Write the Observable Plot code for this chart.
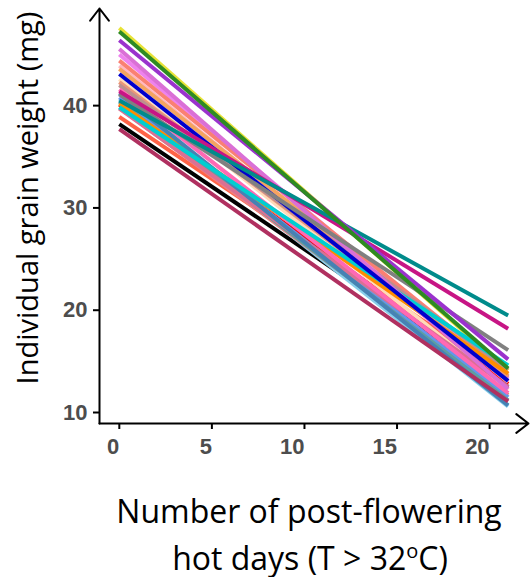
<!DOCTYPE html>
<html><head><meta charset="utf-8">
<script src="https://cdn.jsdelivr.net/npm/d3@7"></script>
<script src="https://cdn.jsdelivr.net/npm/@observablehq/plot@0.6"></script>
<style>body{margin:0;background:#fff}</style>
</head><body><div id="chart"></div>
<script>
// Fitted lines: value at the first and last day
const days = [0, 21];
const lineColors = [
  "#FF0000", "#FF6347", "#000000",
  "#E8E337", "#FFDAB9", "#FFB6C1", "#F4A460", "#87CEEB", "#F08080",
  "#EE82EE", "#FA8072", "#E9967A", "#BC8F8F", "#6495ED", "#5F9EA0",
  "#FF8C00", "#DB7093", "#FF69B4", "#4682B4", "#00CED1",
  "#DA70D6", "#0000CD", "#808080", "#C71585", "#008B8B",
  "#9A32CD", "#2E8B22", "#B03060"
];
const startWeights = [
  39.9, 38.7, 38.0,
  47.4, 42.4, 43.7, 43.4, 40.4, 39.6,
  44.8, 44.2, 42.1, 41.8, 40.6, 40.2,
  40.0, 39.5, 41.4, 41.0, 39.65,
  45.35, 42.9, 40.9, 41.2, 40.3,
  46.2, 47.05, 37.5
];
const endWeights = [
  12.6, 13.2, 12.3,
  13.9, 12.0, 12.8, 13.4, 10.4, 11.5,
  13.1, 13.6, 13.3, 14.0, 11.3, 11.0,
  13.6, 12.3, 11.7, 10.5, 14.4,
  12.1, 12.9, 15.9, 18.0, 19.3,
  15.0, 14.1, 10.9
];
const xTicks = [0, 5, 10, 15, 20];
const yTicks = [10, 20, 30, 40];
const yTitle = "Individual grain weight (mg)";
const xTitleLines = ["Number of post-flowering", "hot days (T > 32oC)"];
const xDomain = [-1.07, 22.1];
const yDomain = [8.73, 49.3];

const lineData = lineColors.flatMap((c, i) => [
  {id: i, color: c, day: days[0], weight: startWeights[i]},
  {id: i, color: c, day: days[1], weight: endWeights[i]}
]);
const axisArrows = [
  {x1: xDomain[0], y1: yDomain[0], x2: xDomain[0], y2: yDomain[1]},
  {x1: xDomain[0], y1: yDomain[0], x2: xDomain[1], y2: yDomain[0]}
];

const tickFont = {fontFamily: "Liberation Sans, Arial, sans-serif", fontWeight: "bold", fontSize: 22, fill: "#4d4d4d", color: "black", strokeWidth: 2, tickSize: 6, label: null};

const chart = Plot.plot({
  width: 530, height: 577,
  marginLeft: 99, marginRight: 2, marginTop: 8, marginBottom: 154,
  style: {background: "white", fontFamily: "Liberation Sans, Arial, sans-serif"},
  x: {domain: xDomain},
  y: {domain: yDomain},
  color: {type: "identity"},
  marks: [
    Plot.line(lineData, {x: "day", y: "weight", z: "id", stroke: "color", strokeWidth: 4, strokeLinecap: "butt"}),
    Plot.axisY({...tickFont, ticks: yTicks, tickPadding: 6, dy: 2}),
    Plot.axisX({...tickFont, ticks: xTicks, tickPadding: 9, textAnchor: "end", dx: 0}),
    Plot.arrow(axisArrows, {x1: "x1", y1: "y1", x2: "x2", y2: "y2", stroke: "black", strokeWidth: 2, headAngle: 75, headLength: 11.5}),
    Plot.text([yTitle], {frameAnchor: "left", textAnchor: "middle", rotate: -90, lineAnchor: "bottom", dx: -62, dy: -18, fontSize: 29, fontFamily: "Open Sans", fill: "black"}),
    Plot.text([xTitleLines[0]], {frameAnchor: "bottom", textAnchor: "middle", lineAnchor: "bottom", dx: -5, dy: 99, fontSize: 32, fontFamily: "Open Sans", fill: "black"}),
    Plot.text([xTitleLines[1]], {frameAnchor: "bottom", textAnchor: "middle", lineAnchor: "bottom", dx: -4, dy: 146, fontSize: 32, fontFamily: "Open Sans", fill: "black"})
  ]
});

// superscript "o" in the degree unit
const ns = "http://www.w3.org/2000/svg";
chart.querySelectorAll("text").forEach(t => {
  if (t.textContent === xTitleLines[1]) {
    const s = t.textContent;
    const k = s.lastIndexOf("oC");
    t.textContent = s.slice(0, k);
    const sup = document.createElementNS(ns, "tspan");
    sup.textContent = s.slice(k, k + 1);
    sup.setAttribute("font-size", "20");
    sup.setAttribute("dy", "-12");
    const rest = document.createElementNS(ns, "tspan");
    rest.textContent = s.slice(k + 1);
    rest.setAttribute("dy", "12");
    t.append(sup, rest);
  }
});
document.getElementById("chart").append(chart);
</script>
</body></html>
